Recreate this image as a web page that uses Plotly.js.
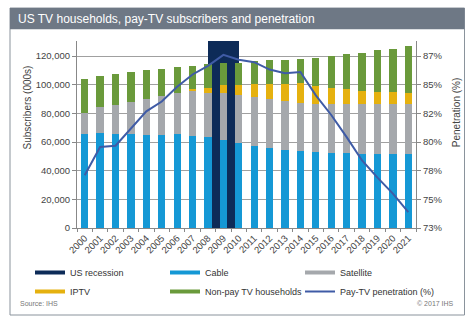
<!DOCTYPE html>
<html><head><meta charset="utf-8">
<script src="https://cdn.plot.ly/plotly-3.0.1.min.js"></script>
<style>html,body{margin:0;padding:0;background:#fff}#chart{width:475px;height:327px}</style>
</head><body><div id="chart"></div>
<script>
// ---- data ----
const years = ["2000","2001","2002","2003","2004","2005","2006","2007","2008","2009","2010",
  "2011","2012","2013","2014","2015","2016","2017","2018","2019","2020","2021"];
const cable = [65600,66500,65600,65600,65100,65100,65400,64200,63300,61400,59500,
  57200,56100,54200,53800,53100,52600,52200,51700,51700,51700,51700];
const satellite = [14800,18100,19900,22000,24600,26900,28500,31500,31000,32500,33200,
  34300,33600,34300,33100,33300,33800,34200,34700,34500,34500,34500];
const iptv = [0,0,0,0,0,0,0,1400,3500,5800,7400,
  9300,11100,12300,14600,12800,11400,10500,9300,8800,8400,8200];
const nonPay = [23900,21500,22000,21300,20600,18800,18500,16000,16500,15500,15100,
  15800,16200,16200,16200,19400,22200,24300,26700,29000,30600,32400];
const penetration = [77.3,79.6,79.7,81.1,82.5,83.3,84.5,85.5,86.2,87.1,86.7,
  86.5,85.9,85.6,85.7,83.8,82.2,80.4,78.5,77.1,75.8,74.3];
const recessionYears = ["2009"];
const recessionTop = [130500];
const leftTicks = [0,20000,40000,60000,80000,100000,120000];

const C = {rec:"#0d2b58", cable:"#1598d5", sat:"#a5a8ac", iptv:"#e5b10f", non:"#6a9a3b", line:"#3f5ba6"};

const traces = [];
traces.push({type:"bar", x:recessionYears, y:recessionTop, width:[2], marker:{color:C.rec},
  xaxis:"x", yaxis:"y", showlegend:false, hoverinfo:"skip"});
[[cable,C.cable,"Cable"],[satellite,C.sat,"Satellite"],[iptv,C.iptv,"IPTV"],[nonPay,C.non,"Non-pay TV households"]]
 .forEach(([v,c,n])=>traces.push({type:"bar", x:years, y:v, name:n, marker:{color:c},
   xaxis:"x", yaxis:"y2", showlegend:false}));
traces.push({type:"scatter", mode:"lines", x:years, y:penetration, line:{color:C.line,width:2},
  xaxis:"x", yaxis:"y3", showlegend:false});

// legend entries (row-major 3 x 2 grid)
[["US recession",C.rec,4],["Cable",C.cable,4],["Satellite",C.sat,4],["IPTV",C.iptv,4],
 ["Non-pay TV households",C.non,4],["Pay-TV penetration (%)",C.line,2]]
 .forEach(([n,c,w])=>traces.push({type:"scatter", mode:"lines", x:[null], y:[null], name:n,
   line:{color:c,width:w}, xaxis:"x", yaxis:"y"}));

const tickFont = {family:"Liberation Sans, Arial, sans-serif", size:9.5, color:"#444"};
const layout = {
  width:475, height:327,
  margin:{l:77, r:59, t:41, b:99, pad:0},
  paper_bgcolor:"#fff", plot_bgcolor:"#fff",
  font:{family:"Liberation Sans, Arial, sans-serif", color:"#333"},
  barmode:"stack", bargap:0.53,
  title:{text:"US TV households, pay-TV subscribers and penetration", xref:"container", x:18/475, xanchor:"left",
    yref:"container", y:1-19/327, yanchor:"middle", font:{size:12, color:"#fff"}},
  xaxis:{type:"category", categoryarray:years, range:[-0.5,21.5], tickangle:-45, tickfont:tickFont,
    ticks:"outside", tickson:"boundaries", ticklen:3, tickcolor:"#888", showline:true, linecolor:"#888",
    showgrid:false, fixedrange:true},
  yaxis:{range:[0,130500], tickvals:leftTicks, tickformat:",", tickfont:tickFont, ticks:"outside", ticklen:4,
    tickcolor:"#888", showline:true, linecolor:"#888", gridcolor:"#a0a0a0", gridwidth:1, zeroline:false},
  yaxis2:{range:[0,130500], overlaying:"y", visible:false},
  yaxis3:{range:[73, 73+14*130.5/120], overlaying:"y", side:"right", tick0:73, dtick:14/6, tickformat:".0f",
    ticksuffix:"%", tickfont:tickFont, ticks:"outside", ticklen:4, tickcolor:"#888", showline:true,
    linecolor:"#888", showgrid:false, zeroline:false},
  legend:{orientation:"h", xref:"paper", yref:"paper", x:(30-77)/339, y:(228-258)/187, xanchor:"left", yanchor:"top",
    entrywidth:90, itemwidth:30, font:{size:9, color:"#333"}, bgcolor:"rgba(0,0,0,0)", traceorder:"normal"},
  shapes:[
    {type:"rect", xref:"paper", yref:"paper", x0:(10-77)/339, x1:(464.5-77)/339, y0:(228-315)/187, y1:(228-8)/187,
      line:{color:"#8a939c", width:1}, fillcolor:"rgba(0,0,0,0)", layer:"below"},
    {type:"rect", xref:"paper", yref:"paper", x0:(10-77)/339, x1:(464.5-77)/339, y0:(228-29.3)/187, y1:(228-8)/187,
      line:{width:0}, fillcolor:"#6e7885", layer:"below"}
  ],
  annotations:[
    {text:"Subscribers (000s)", xref:"paper", yref:"paper", x:(27-77)/339, y:(228-107.5)/187, textangle:-90,
      showarrow:false, font:{size:10, color:"#444"}, xanchor:"center", yanchor:"middle"},
    {text:"Penetration (%)", xref:"paper", yref:"paper", x:(456.7-77)/339, y:(228-112.5)/187, textangle:-90,
      showarrow:false, font:{size:10, color:"#444"}, xanchor:"center", yanchor:"middle"},
    {text:"Source: IHS", xref:"paper", yref:"paper", x:(18-77)/339, y:(228-303)/187, xanchor:"left", yanchor:"middle",
      showarrow:false, font:{size:7, color:"#777"}},
    {text:"© 2017 IHS", xref:"paper", yref:"paper", x:(456-77)/339, y:(228-303)/187, xanchor:"right", yanchor:"middle",
      showarrow:false, font:{size:7, color:"#777"}}
  ]
};
Plotly.newPlot("chart", traces, layout, {displayModeBar:false, staticPlot:true});
</script></body></html>
